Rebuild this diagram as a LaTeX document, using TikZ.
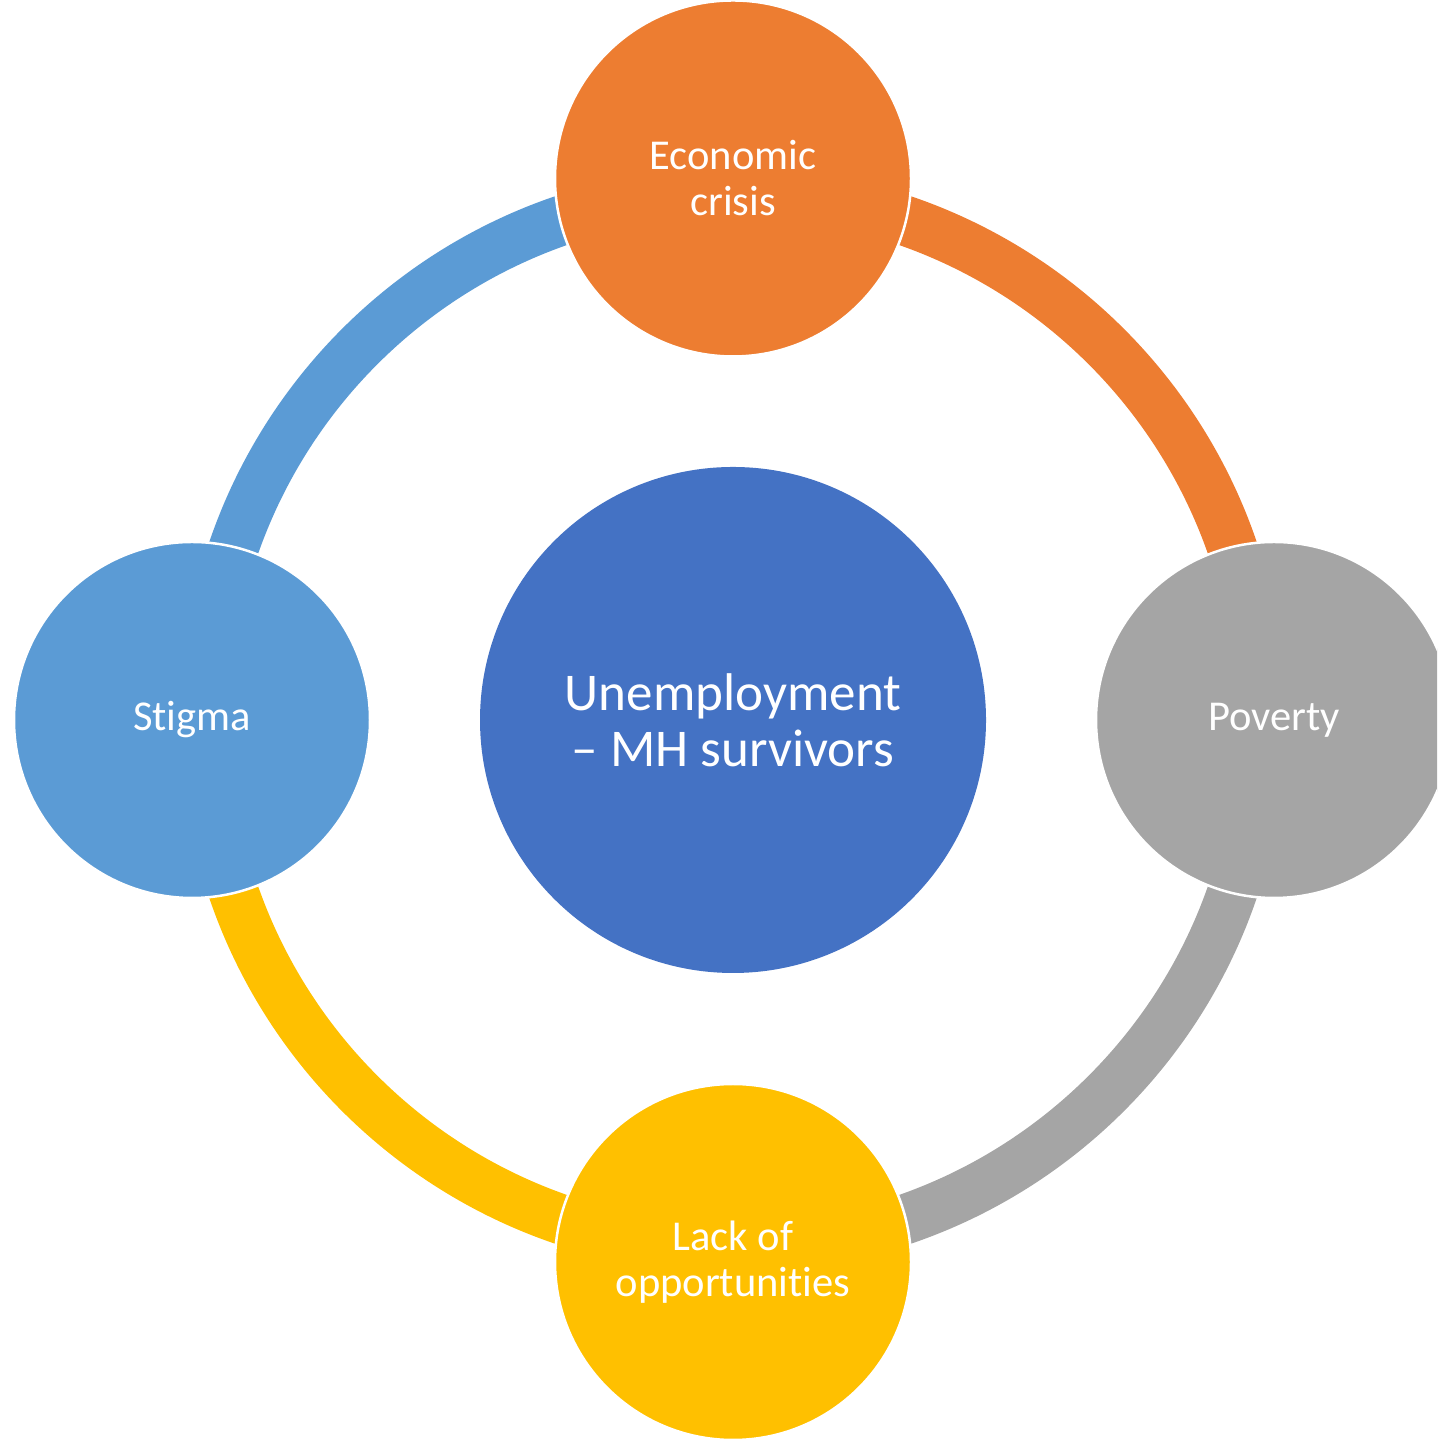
\documentclass[tikz,border=0pt]{standalone}
\usepackage{fontspec}
\setmainfont[RawFeature={-liga,-clig,-dlig}]{Carlito}
\definecolor{corange}{HTML}{ED7D31}
\definecolor{cgray}{HTML}{A5A5A5}
\definecolor{cyellow}{HTML}{FFC000}
\definecolor{clblue}{HTML}{5B9BD5}
\definecolor{cdblue}{HTML}{4472C4}
\begin{document}
\begin{tikzpicture}[x=0.1mm,y=0.1mm]
\tikzset{
  ringarc/.style={line width=5mm},
  outer/.style={circle, draw=white, line width=0.25mm, minimum size=35.6mm, inner sep=0pt,
    text=white, align=center, font=\fontsize{12.1}{13.1}\selectfont},
  inner/.style={circle, minimum size=50.6mm, inner sep=0pt, fill=cdblue,
    text=white, align=center, font=\fontsize{15.1}{15.85}\selectfont}
}
\useasboundingbox (0,0) rectangle (1437,1440);
\clip (0,0) rectangle (1437,1440);
\coordinate (C) at (733,720);
% ring segments
\draw[ringarc, corange] (C) ++(90:52.8mm) arc[start angle=90, end angle=0, radius=52.8mm];
\draw[ringarc, cgray] (C) ++(0:52.8mm) arc[start angle=0, end angle=-90, radius=52.8mm];
\draw[ringarc, cyellow] (C) ++(-90:52.8mm) arc[start angle=-90, end angle=-180, radius=52.8mm];
\draw[ringarc, clblue] (C) ++(180:52.8mm) arc[start angle=180, end angle=90, radius=52.8mm];
% circles
\node[inner] (center) at (C) {Unemployment\\– MH survivors};
\node[outer, fill=corange] (econ) at (733,1261.5) {Economic\\crisis};
\node[outer, fill=cgray] (pov) at (1274,720) {Poverty};
\node[outer, fill=cyellow] (lack) at (733,178) {Lack of\\opportunities};
\node[outer, fill=clblue] (stig) at (192,720) {Stigma};
\end{tikzpicture}
\end{document}
